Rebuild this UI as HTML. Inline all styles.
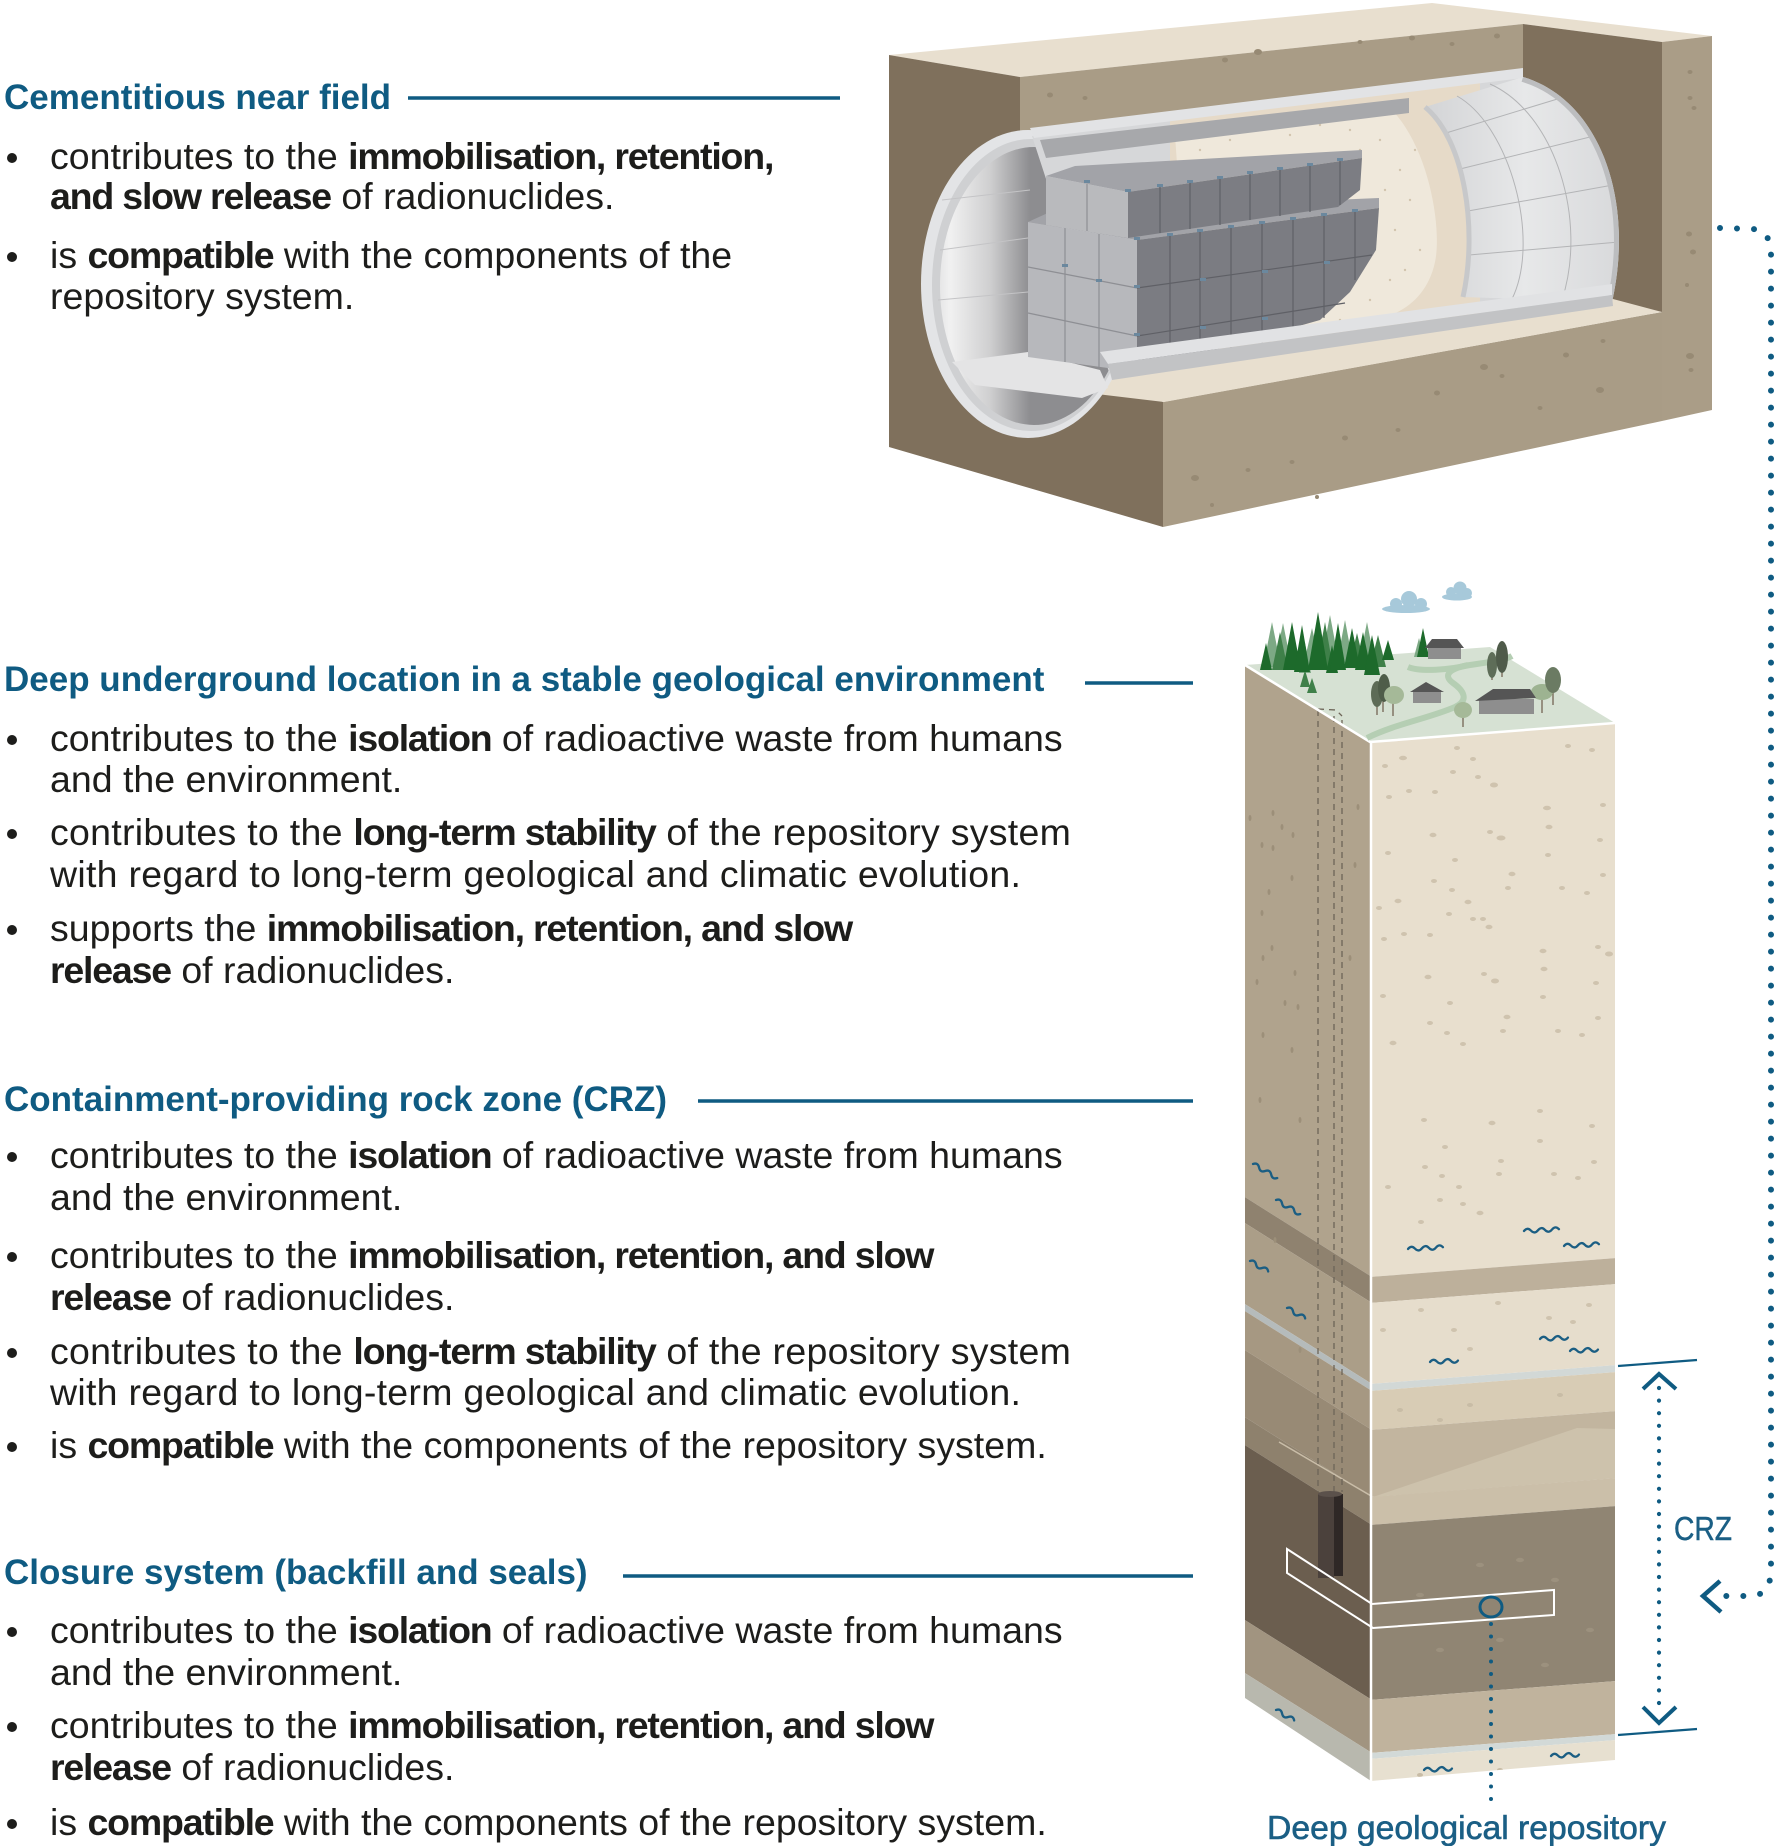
<!DOCTYPE html>
<html><head><meta charset="utf-8">
<style>
html,body{margin:0;padding:0;background:#fff;}
body{width:1777px;height:1846px;position:relative;overflow:hidden;font-family:"Liberation Sans",sans-serif;}
svg{position:absolute;left:0;top:0;}
.h{position:absolute;left:4px;font-weight:bold;font-size:35px;line-height:40px;color:#0f5b82;white-space:nowrap;}
.t{position:absolute;left:50px;font-size:37.5px;line-height:41px;color:#1d1d1b;white-space:nowrap;}
.t b{letter-spacing:-1.2px;}
.w{letter-spacing:0.28px;}
.bu{position:absolute;left:7px;width:10px;height:10px;border-radius:50%;background:#1d1d1b;}
</style></head><body>
<svg width="1777" height="1846" viewBox="0 0 1777 1846" xmlns="http://www.w3.org/2000/svg">
<defs>
 <linearGradient id="inner" gradientUnits="userSpaceOnUse" x1="930" y1="0" x2="1030" y2="0">
  <stop offset="0" stop-color="#dcdcdd"/>
  <stop offset="0.2" stop-color="#f1f1f1"/>
  <stop offset="0.6" stop-color="#cfcfd0"/>
  <stop offset="1" stop-color="#8d8d90"/>
 </linearGradient>
 <linearGradient id="gridg" gradientUnits="userSpaceOnUse" x1="1430" y1="0" x2="1620" y2="0">
  <stop offset="0" stop-color="#d4d5d7"/>
  <stop offset="0.5" stop-color="#e7e8e9"/>
  <stop offset="1" stop-color="#d8d9db"/>
 </linearGradient>
 <clipPath id="pc"><path d="M1032,136 L1523,77 C1600,100 1635,200 1612,302 L1109,372 Z"/></clipPath>
 <clipPath id="lf"><polygon points="1245,665 1371,742 1371,1781 1245,1698"/></clipPath>
 <clipPath id="rf"><polygon points="1371,742 1615,723 1615,1760 1371,1781"/></clipPath>
</defs>

<!-- ===== Tunnel block ===== -->
<polygon points="889,55 1432,3 1712,36 1662,42 1523,24 1020,77" fill="#e8dfcf"/>
<polygon points="1020,77 1523,24 1523,300 1020,350" fill="#a99c86"/>
<polygon points="1523,24 1662,42 1662,312 1523,300" fill="#7f705c"/>
<polygon points="1662,42 1712,36 1712,410 1662,421" fill="#aa9d87"/>
<polygon points="1163,402 1662,312 1662,421 1163,527" fill="#a99c86"/>
<polygon points="889,55 1020,77 1020,330 1163,402 1163,527 889,447" fill="#7f705c"/>
<polygon points="1080,392 1164,402 1662,312 1613,299 1105,366" fill="#e8dfcf"/>

<g fill="#978a74">
 <ellipse cx="1050" cy="95" rx="3" ry="2.5"/><ellipse cx="1085" cy="98" rx="2.5" ry="2"/>
 <ellipse cx="1225" cy="60" rx="3" ry="2.5"/><ellipse cx="1258" cy="52" rx="4" ry="3"/>
 <ellipse cx="1360" cy="42" rx="2.5" ry="2"/><ellipse cx="1412" cy="38" rx="3" ry="2.5"/>
 <ellipse cx="1452" cy="44" rx="2.5" ry="2"/><ellipse cx="1497" cy="36" rx="3" ry="2.5"/>
 <ellipse cx="1690" cy="72" rx="2.5" ry="2"/><ellipse cx="1690" cy="98" rx="2.5" ry="2"/>
 <ellipse cx="1694" cy="108" rx="2.5" ry="2"/><ellipse cx="1689" cy="234" rx="3" ry="2.5"/>
 <ellipse cx="1693" cy="252" rx="3" ry="2.5"/><ellipse cx="1687" cy="285" rx="2" ry="2"/>
 <ellipse cx="1690" cy="356" rx="4" ry="3"/><ellipse cx="1691" cy="370" rx="2.5" ry="2"/>
 <ellipse cx="1195" cy="478" rx="4" ry="3"/><ellipse cx="1248" cy="470" rx="2.5" ry="2"/>
 <ellipse cx="1292" cy="462" rx="2.5" ry="2"/><ellipse cx="1345" cy="438" rx="3" ry="2.5"/>
 <ellipse cx="1398" cy="430" rx="2.5" ry="2"/><ellipse cx="1484" cy="367" rx="4" ry="3"/>
 <ellipse cx="1502" cy="376" rx="2.5" ry="2"/><ellipse cx="1566" cy="355" rx="3" ry="2.5"/>
 <ellipse cx="1603" cy="341" rx="2.5" ry="2"/><ellipse cx="1437" cy="393" rx="3" ry="2.5"/>
 <ellipse cx="1600" cy="390" rx="4" ry="3"/><ellipse cx="1317" cy="497" rx="2" ry="2"/>
 <ellipse cx="1212" cy="505" rx="2" ry="2"/><ellipse cx="1540" cy="408" rx="2.5" ry="2"/>
</g>

<!-- tunnel opening -->
<ellipse cx="1028" cy="284" rx="107" ry="154" fill="#e3e4e6"/>
<ellipse cx="1031" cy="285" rx="99" ry="146" fill="#cfd0d2"/>
<ellipse cx="1034" cy="286" rx="94" ry="139" fill="url(#inner)"/>
<polygon points="952,362 1028,352 1100,370 1108,388 1082,398 975,385" fill="#e4e4e5"/>
<g stroke="#c4c4c6" stroke-width="1" fill="none">
 <path d="M940,250 L1028,238"/><path d="M938,300 L1028,292"/><path d="M942,200 L1030,190"/>
</g>

<!-- tunnel interior -->
<g clip-path="url(#pc)">
 <rect x="1020" y="60" width="620" height="330" fill="#d6d7d9"/>
 <polygon points="1170,100 1480,60 1480,330 1170,370" fill="#e6dac8"/>
 <path d="M1175,135 L1392,110 C1430,150 1442,230 1435,262 C1428,295 1405,312 1382,318 L1190,350 Z" fill="#efe8db"/>
 <g fill="#d2c4ae">
  <circle cx="1200" cy="150" r="1.2"/><circle cx="1230" cy="140" r="1.2"/><circle cx="1260" cy="128" r="1.2"/>
  <circle cx="1290" cy="135" r="1.2"/><circle cx="1320" cy="125" r="1.2"/><circle cx="1350" cy="130" r="1.2"/>
  <circle cx="1380" cy="140" r="1.2"/><circle cx="1400" cy="170" r="1.2"/><circle cx="1410" cy="200" r="1.2"/>
  <circle cx="1395" cy="230" r="1.2"/><circle cx="1420" cy="250" r="1.2"/><circle cx="1390" cy="280" r="1.2"/>
  <circle cx="1370" cy="300" r="1.2"/><circle cx="1340" cy="320" r="1.2"/><circle cx="1385" cy="190" r="1.2"/>
  <circle cx="1405" cy="270" r="1.2"/><circle cx="1415" cy="150" r="1.2"/><circle cx="1360" cy="150" r="1.2"/>
 </g>
 <path d="M1425,107 L1523,77 C1600,100 1635,200 1612,302 L1463,297 C1478,230 1465,140 1425,107 Z" fill="url(#gridg)"/>
 <g stroke="#b3b4b6" stroke-width="1" fill="none">
  <path d="M1457,96 C1510,126 1541,240 1512,299"/>
  <path d="M1490,84 C1555,113 1588,220 1562,300"/>
  <path d="M1446,133 L1564,97"/><path d="M1460,169 L1594,136"/>
  <path d="M1468,211 L1613,185"/><path d="M1469,255 L1619,242"/>
 </g>
 <path d="M1523,77 C1600,100 1635,200 1612,302" stroke="#bcbdbf" stroke-width="10" fill="none"/>
 <path d="M1425,107 C1465,140 1478,230 1463,297" stroke="#c7c8ca" stroke-width="5" fill="none"/>
</g>

<!-- waste packages -->
<polygon points="1028,222 1050,212 1379,198 1379,208 1137,240" fill="#a2a3a8"/>
<polygon points="1028,222 1137,240 1137,372 1028,357" fill="#b7b8bc"/>
<polygon points="1137,240 1379,208 1376,250 1350,292 1320,320 1137,372" fill="#7b7c82"/>
<g stroke="#5f6066" stroke-width="1.2">
 <line x1="1170" y1="236" x2="1170" y2="365"/><line x1="1200" y1="232" x2="1200" y2="360"/>
 <line x1="1231" y1="228" x2="1231" y2="355"/><line x1="1262" y1="224" x2="1262" y2="348"/>
 <line x1="1293" y1="220" x2="1293" y2="335"/><line x1="1324" y1="216" x2="1324" y2="318"/>
 <line x1="1355" y1="212" x2="1355" y2="280"/>
 <line x1="1137" y1="288" x2="1372" y2="255"/><line x1="1137" y1="336" x2="1345" y2="303"/>
</g>
<g stroke="#8e8f94" stroke-width="1.2">
 <line x1="1065" y1="228" x2="1065" y2="362"/><line x1="1099" y1="234" x2="1099" y2="367"/>
 <line x1="1028" y1="267" x2="1137" y2="288"/><line x1="1028" y1="313" x2="1137" y2="336"/>
</g>
<polygon points="1046,176 1075,166 1362,150 1362,158 1128,192" fill="#a2a3a8"/>
<polygon points="1046,176 1128,192 1128,238 1046,225" fill="#b9babd"/>
<polygon points="1128,192 1362,158 1360,190 1338,207 1128,238" fill="#7c7d83"/>
<g stroke="#5f6066" stroke-width="1.2">
 <line x1="1160" y1="187" x2="1160" y2="233"/><line x1="1190" y1="183" x2="1190" y2="229"/>
 <line x1="1220" y1="179" x2="1220" y2="225"/><line x1="1250" y1="174" x2="1250" y2="220"/>
 <line x1="1280" y1="170" x2="1280" y2="216"/><line x1="1310" y1="166" x2="1310" y2="212"/>
 <line x1="1340" y1="161" x2="1340" y2="205"/>
 <line x1="1087" y1="184" x2="1087" y2="231" stroke="#8e8f94"/>
</g>
<g fill="#6b889e">
 <rect x="1084" y="180" width="6" height="3"/><rect x="1125" y="189" width="6" height="3"/>
 <rect x="1157" y="184" width="6" height="3"/><rect x="1187" y="180" width="6" height="3"/>
 <rect x="1217" y="176" width="6" height="3"/><rect x="1247" y="171" width="6" height="3"/>
 <rect x="1277" y="167" width="6" height="3"/><rect x="1307" y="163" width="6" height="3"/>
 <rect x="1337" y="158" width="6" height="3"/><rect x="1134" y="237" width="6" height="3"/>
 <rect x="1167" y="233" width="6" height="3"/><rect x="1197" y="229" width="6" height="3"/>
 <rect x="1228" y="225" width="6" height="3"/><rect x="1259" y="221" width="6" height="3"/>
 <rect x="1290" y="217" width="6" height="3"/><rect x="1321" y="213" width="6" height="3"/>
 <rect x="1352" y="209" width="6" height="3"/><rect x="1134" y="285" width="6" height="3"/>
 <rect x="1134" y="333" width="6" height="3"/><rect x="1062" y="264" width="6" height="3"/>
 <rect x="1096" y="279" width="6" height="3"/><rect x="1200" y="278" width="6" height="3"/>
 <rect x="1262" y="270" width="6" height="3"/><rect x="1324" y="261" width="6" height="3"/>
 <rect x="1200" y="326" width="6" height="3"/><rect x="1262" y="317" width="6" height="3"/>
</g>

<!-- cut strips -->
<polygon points="1030,128 1523,68 1523,78 1034,138" fill="#e2e3e5"/>
<polygon points="1040,140 1409,98 1409,113 1046,158" fill="#a7a8ab"/>
<polygon points="1100,352 1612,284 1612,295 1108,364" fill="#e1e2e4"/>
<polygon points="1108,364 1612,295 1613,306 1112,380" fill="#c2c3c5"/>

<!-- ===== Geological column ===== -->
<polygon points="1245,665 1370,742 1615,723 1490,647" fill="#d6e1d3"/>
<g clip-path="url(#lf)">
 <polygon points="1240,560 1372,650 1372,1277 1240,1194" fill="#b0a38d"/>
 <polygon points="1240,1194 1372,1277 1372,1303 1240,1220" fill="#8f826f"/>
 <polygon points="1240,1220 1372,1303 1372,1384 1240,1301" fill="#ab9e88"/>
 <polygon points="1240,1301 1372,1384 1372,1391 1240,1308" fill="#b5bbbb"/>
 <polygon points="1240,1308 1372,1391 1372,1430 1240,1347" fill="#a69882"/>
 <polygon points="1240,1347 1372,1430 1372,1497 1240,1414" fill="#988a75"/>
 <polygon points="1240,1414 1372,1497 1372,1525 1240,1442" fill="#8e816d"/>
 <polygon points="1240,1442 1372,1525 1372,1700 1240,1617" fill="#6b5e4f"/>
 <polygon points="1240,1617 1372,1700 1372,1753 1240,1670" fill="#a19480"/>
 <polygon points="1240,1670 1372,1753 1372,1800 1240,1717" fill="#b8b8ae"/>
 <line x1="1279" y1="1442" x2="1373" y2="1497" stroke="#c9bda8" stroke-width="1.5"/>
 <g fill="#9c8f79">
  <ellipse cx="1273" cy="813" rx="1.5" ry="3"/><ellipse cx="1282" cy="827" rx="1.5" ry="3"/>
  <ellipse cx="1293" cy="835" rx="1.5" ry="3"/><ellipse cx="1262" cy="845" rx="1.5" ry="3"/>
  <ellipse cx="1273" cy="848" rx="1.5" ry="3"/><ellipse cx="1292" cy="878" rx="1.5" ry="3"/>
  <ellipse cx="1269" cy="892" rx="1.5" ry="3"/><ellipse cx="1250" cy="818" rx="1.5" ry="3"/>
  <ellipse cx="1272" cy="948" rx="1.5" ry="3"/><ellipse cx="1263" cy="958" rx="1.5" ry="3"/>
  <ellipse cx="1295" cy="973" rx="1.5" ry="3"/><ellipse cx="1257" cy="982" rx="1.5" ry="3"/>
  <ellipse cx="1285" cy="1003" rx="1.5" ry="3"/><ellipse cx="1298" cy="1007" rx="1.5" ry="3"/>
  <ellipse cx="1263" cy="1035" rx="1.5" ry="3"/><ellipse cx="1292" cy="1050" rx="1.5" ry="3"/>
  <ellipse cx="1350" cy="958" rx="1.5" ry="3"/><ellipse cx="1358" cy="807" rx="1.5" ry="3"/>
  <ellipse cx="1355" cy="865" rx="1.5" ry="3"/><ellipse cx="1262" cy="913" rx="1.5" ry="3"/>
  <ellipse cx="1260" cy="1100" rx="1.5" ry="3"/><ellipse cx="1300" cy="1120" rx="1.5" ry="3"/>
  <ellipse cx="1275" cy="1240" rx="1.5" ry="3"/><ellipse cx="1300" cy="1350" rx="1.5" ry="3"/>
 </g>
</g>
<g clip-path="url(#rf)">
 <polygon points="1370,700 1616,681 1616,1258 1370,1277" fill="#e8dfce"/>
 <polygon points="1370,1277 1616,1258 1616,1284 1370,1303" fill="#bdb09b"/>
 <polygon points="1370,1303 1616,1284 1616,1365 1370,1384" fill="#e6ddcc"/>
 <polygon points="1370,1384 1616,1365 1616,1372 1370,1391" fill="#d2d8d6"/>
 <polygon points="1370,1391 1616,1372 1616,1411 1370,1430" fill="#d8ccb5"/>
 <polygon points="1370,1430 1616,1411 1616,1478 1370,1497" fill="#c2b59f"/>
 <polygon points="1373,1497 1577,1428 1616,1429 1616,1478" fill="#cdc2ac"/>
 <polygon points="1370,1497 1616,1478 1616,1506 1370,1525" fill="#cbbfa9"/>
 <polygon points="1370,1525 1616,1506 1616,1681 1370,1700" fill="#908573"/>
 <polygon points="1370,1700 1616,1681 1616,1734 1370,1753" fill="#c0b39d"/>
 <polygon points="1370,1753 1616,1734 1616,1740 1370,1759" fill="#d2d9d7"/>
 <polygon points="1370,1759 1616,1740 1616,1800 1370,1800" fill="#e7e0d0"/>
 <g fill="#cfc3ae">
  <ellipse cx="1403" cy="758" rx="4" ry="2.2"/><ellipse cx="1385" cy="766" rx="3" ry="2"/>
  <ellipse cx="1457" cy="748" rx="3" ry="2"/><ellipse cx="1473" cy="759" rx="3" ry="2"/>
  <ellipse cx="1453" cy="772" rx="3" ry="2"/><ellipse cx="1494" cy="785" rx="4" ry="2.5"/>
  <ellipse cx="1478" cy="777" rx="3" ry="2"/><ellipse cx="1592" cy="750" rx="3" ry="2"/>
  <ellipse cx="1568" cy="746" rx="3" ry="2"/><ellipse cx="1409" cy="791" rx="3" ry="2"/>
  <ellipse cx="1435" cy="792" rx="3" ry="2"/><ellipse cx="1389" cy="797" rx="3" ry="2"/>
  <ellipse cx="1547" cy="808" rx="4" ry="2.2"/><ellipse cx="1603" cy="805" rx="3" ry="2"/>
  <ellipse cx="1549" cy="827" rx="3.5" ry="2.2"/><ellipse cx="1490" cy="832" rx="3" ry="2"/>
  <ellipse cx="1501" cy="838" rx="4.5" ry="2.5"/><ellipse cx="1433" cy="835" rx="3.5" ry="2.2"/>
  <ellipse cx="1600" cy="840" rx="3" ry="2"/><ellipse cx="1388" cy="853" rx="3" ry="2"/>
  <ellipse cx="1548" cy="855" rx="3" ry="2"/><ellipse cx="1455" cy="860" rx="3" ry="2"/>
  <ellipse cx="1512" cy="874" rx="3.5" ry="2.2"/><ellipse cx="1603" cy="875" rx="3" ry="2"/>
  <ellipse cx="1434" cy="881" rx="3" ry="2"/><ellipse cx="1452" cy="890" rx="3" ry="2"/>
  <ellipse cx="1508" cy="888" rx="3" ry="2"/><ellipse cx="1562" cy="888" rx="3" ry="2"/>
  <ellipse cx="1587" cy="893" rx="3" ry="2"/><ellipse cx="1398" cy="901" rx="3.5" ry="2.2"/>
  <ellipse cx="1468" cy="902" rx="3.5" ry="2.2"/><ellipse cx="1379" cy="908" rx="3" ry="2"/>
  <ellipse cx="1449" cy="914" rx="3" ry="2"/><ellipse cx="1473" cy="919" rx="3" ry="2"/>
  <ellipse cx="1483" cy="919" rx="3" ry="2"/><ellipse cx="1489" cy="927" rx="3.5" ry="2.2"/>
  <ellipse cx="1384" cy="939" rx="3" ry="2"/><ellipse cx="1404" cy="934" rx="3" ry="2"/>
  <ellipse cx="1430" cy="935" rx="3" ry="2"/><ellipse cx="1543" cy="951" rx="3.5" ry="2.2"/>
  <ellipse cx="1598" cy="947" rx="3" ry="2"/><ellipse cx="1609" cy="954" rx="4" ry="2.5"/>
  <ellipse cx="1544" cy="969" rx="3.5" ry="2.2"/><ellipse cx="1428" cy="977" rx="3.5" ry="2.2"/>
  <ellipse cx="1484" cy="974" rx="3" ry="2"/><ellipse cx="1495" cy="981" rx="4" ry="2.5"/>
  <ellipse cx="1596" cy="983" rx="3" ry="2"/><ellipse cx="1383" cy="996" rx="3" ry="2"/>
  <ellipse cx="1450" cy="1003" rx="3" ry="2"/><ellipse cx="1543" cy="997" rx="3" ry="2"/>
  <ellipse cx="1507" cy="1017" rx="3.5" ry="2.2"/><ellipse cx="1430" cy="1023" rx="3" ry="2"/>
  <ellipse cx="1598" cy="1018" rx="3" ry="2"/><ellipse cx="1503" cy="1031" rx="3" ry="2"/>
  <ellipse cx="1558" cy="1031" rx="3" ry="2"/><ellipse cx="1447" cy="1033" rx="3" ry="2"/>
  <ellipse cx="1393" cy="1043" rx="3.5" ry="2.2"/><ellipse cx="1463" cy="1044" rx="3" ry="2"/>
  <ellipse cx="1582" cy="1035" rx="3" ry="2"/><ellipse cx="1424" cy="1120" rx="3" ry="2"/>
  <ellipse cx="1492" cy="1123" rx="3.5" ry="2.2"/><ellipse cx="1540" cy="1111" rx="3" ry="2"/>
  <ellipse cx="1592" cy="1126" rx="3" ry="2"/><ellipse cx="1445" cy="1147" rx="3" ry="2"/>
  <ellipse cx="1540" cy="1141" rx="3" ry="2"/><ellipse cx="1501" cy="1161" rx="3" ry="2"/>
  <ellipse cx="1594" cy="1162" rx="3" ry="2"/><ellipse cx="1425" cy="1167" rx="3" ry="2"/>
  <ellipse cx="1499" cy="1174" rx="3" ry="2"/><ellipse cx="1554" cy="1174" rx="3" ry="2"/>
  <ellipse cx="1442" cy="1176" rx="3" ry="2"/><ellipse cx="1578" cy="1178" rx="3" ry="2"/>
  <ellipse cx="1388" cy="1187" rx="3" ry="2"/><ellipse cx="1459" cy="1187" rx="3" ry="2"/>
  <ellipse cx="1440" cy="1200" rx="3" ry="2"/><ellipse cx="1463" cy="1204" rx="3" ry="2"/>
  <ellipse cx="1480" cy="1213" rx="3.5" ry="2.2"/><ellipse cx="1421" cy="1222" rx="3" ry="2"/>
  <ellipse cx="1421" cy="1310" rx="3" ry="2"/><ellipse cx="1498" cy="1303" rx="3" ry="2"/>
  <ellipse cx="1589" cy="1305" rx="3" ry="2"/><ellipse cx="1383" cy="1330" rx="3" ry="2"/>
  <ellipse cx="1454" cy="1330" rx="3" ry="2"/><ellipse cx="1549" cy="1318" rx="3" ry="2"/>
  <ellipse cx="1573" cy="1322" rx="3" ry="2"/><ellipse cx="1470" cy="1349" rx="3" ry="2"/>
 </g>
 <g fill="#c8bca6">
  <ellipse cx="1400" cy="1410" rx="3" ry="2"/><ellipse cx="1470" cy="1405" rx="3" ry="2"/>
  <ellipse cx="1560" cy="1395" rx="3" ry="2"/><ellipse cx="1440" cy="1420" rx="3" ry="2"/>
  <ellipse cx="1420" cy="1775" rx="3" ry="2"/><ellipse cx="1500" cy="1770" rx="3" ry="2"/>
 </g>
 <g fill="#9c917e">
  <ellipse cx="1480" cy="1565" rx="4" ry="2.2"/><ellipse cx="1520" cy="1560" rx="4" ry="2.2"/>
  <ellipse cx="1555" cy="1580" rx="4" ry="2.2"/><ellipse cx="1440" cy="1650" rx="4" ry="2.2"/>
  <ellipse cx="1500" cy="1640" rx="4" ry="2.2"/><ellipse cx="1590" cy="1630" rx="4" ry="2.2"/>
  <ellipse cx="1420" cy="1595" rx="4" ry="2.2"/><ellipse cx="1545" cy="1665" rx="4" ry="2.2"/>
 </g>
</g>

<!-- shafts, canister, repository outline -->
<g stroke="#6d6558" stroke-width="1.3" stroke-dasharray="6 5" fill="none">
 <line x1="1318" y1="710" x2="1318" y2="1492"/>
 <line x1="1334" y1="716" x2="1334" y2="1492"/>
 <line x1="1342" y1="720" x2="1342" y2="1492"/>
 <path d="M1318,709 L1336,710 L1342,716"/>
</g>
<rect x="1318" y="1494" width="16" height="84" fill="#4b413c"/>
<rect x="1334" y="1494" width="9" height="82" fill="#2f2826"/>
<ellipse cx="1330" cy="1494" rx="12" ry="3" fill="#5b514b"/>
<path d="M1287,1549 L1372,1604 L1554,1590 L1554,1615 L1373,1628 L1287,1573 Z" fill="none" stroke="#ffffff" stroke-width="2"/>

<!-- white edges -->
<polyline points="1245,665 1370,742 1615,723" fill="none" stroke="#ffffff" stroke-width="2.5"/>
<line x1="1371" y1="742" x2="1371" y2="1781" stroke="#ffffff" stroke-width="2.5"/>

<!-- waves -->
<g stroke="#1b5e83" stroke-width="2.3" fill="none" stroke-linecap="round">
 <path d="M0,0 q3.5,-4 7,0 t7,0 t7,0 t7,0" transform="translate(1253,1164) rotate(30)"/>
 <path d="M0,0 q3.5,-4 7,0 t7,0 t7,0 t7,0" transform="translate(1276,1200) rotate(30)"/>
 <path d="M0,0 q3.5,-4 7,0 t7,0 t7,0" transform="translate(1250,1261) rotate(30)"/>
 <path d="M0,0 q3.5,-4 7,0 t7,0 t7,0" transform="translate(1287,1308) rotate(30)"/>
 <path d="M0,0 q3.5,-4 7,0 t7,0 t7,0" transform="translate(1276,1710) rotate(30)"/>
 <path d="M0,0 q3.5,-4 7,0 t7,0 t7,0 t7,0 t7,0" transform="translate(1408,1249) rotate(-3)"/>
 <path d="M0,0 q3.5,-4 7,0 t7,0 t7,0 t7,0 t7,0" transform="translate(1524,1231) rotate(-3)"/>
 <path d="M0,0 q3.5,-4 7,0 t7,0 t7,0 t7,0 t7,0" transform="translate(1564,1246) rotate(-3)"/>
 <path d="M0,0 q3.5,-4 7,0 t7,0 t7,0 t7,0" transform="translate(1430,1362) rotate(-3)"/>
 <path d="M0,0 q3.5,-4 7,0 t7,0 t7,0 t7,0" transform="translate(1540,1339) rotate(-3)"/>
 <path d="M0,0 q3.5,-4 7,0 t7,0 t7,0 t7,0" transform="translate(1570,1351) rotate(-3)"/>
 <path d="M0,0 q3.5,-4 7,0 t7,0 t7,0 t7,0" transform="translate(1424,1770) rotate(-3)"/>
 <path d="M0,0 q3.5,-4 7,0 t7,0 t7,0 t7,0" transform="translate(1551,1756) rotate(-3)"/>
</g>

<!-- top surface details -->
<path d="M1367,738 C1395,724 1430,718 1455,707 C1470,700 1463,690 1453,683 C1442,675 1450,668 1470,665 C1490,662 1505,660 1512,656" fill="none" stroke="#b5ceb3" stroke-width="6"/>
<path d="M1408,667 C1420,672 1450,670 1468,665" fill="none" stroke="#b5ceb3" stroke-width="6"/>
<g fill="#a7c9da">
 <ellipse cx="1406" cy="609" rx="24" ry="4"/><circle cx="1396" cy="604" r="6"/><circle cx="1409" cy="599" r="8"/><circle cx="1421" cy="604" r="6"/>
 <ellipse cx="1457" cy="597" rx="15" ry="3.5"/><circle cx="1451" cy="592" r="5"/><circle cx="1460" cy="588" r="6.5"/><circle cx="1467" cy="593" r="5"/>
</g>
<!-- conifers -->
<g fill="#7da985">
 <polygon points="1272,622 1263,667 1281,667"/><polygon points="1283,623 1275,663 1291,663"/>
 <polygon points="1305,643 1299,673 1311,673"/><polygon points="1312,628 1303,667 1321,667"/>
 <polygon points="1330,615 1321,663 1339,663"/><polygon points="1345,620 1337,663 1353,663"/>
 <polygon points="1367,622 1359,663 1375,663"/><polygon points="1419,638 1414,657 1424,657"/>
</g>
<g fill="#3f8049">
 <polygon points="1280,632 1272,670 1288,670"/><polygon points="1325,622 1317,667 1333,667"/>
 <polygon points="1357,633 1349,667 1365,667"/><polygon points="1378,635 1370,667 1386,667"/>
 <polygon points="1305,670 1300,687 1310,687"/><polygon points="1312,678 1307,693 1317,693"/>
</g>
<g fill="#1d6a2b">
 <polygon points="1266,643 1260,670 1272,670"/><polygon points="1292,622 1283,670 1301,670"/>
 <polygon points="1302,625 1294,672 1310,672"/><polygon points="1318,612 1308,670 1328,670"/>
 <polygon points="1332,645 1326,673 1338,673"/><polygon points="1338,623 1330,670 1346,670"/>
 <polygon points="1352,628 1344,668 1360,668"/><polygon points="1363,632 1355,670 1371,670"/>
 <polygon points="1372,635 1364,675 1380,675"/><polygon points="1388,640 1382,660 1394,660"/>
 <polygon points="1423,628 1417,657 1429,657"/>
</g>
<!-- deciduous -->
<g stroke="#6a5a48" stroke-width="1.2">
 <line x1="1377" y1="700" x2="1377" y2="715"/><line x1="1383" y1="695" x2="1383" y2="712"/>
 <line x1="1393" y1="700" x2="1393" y2="716"/><line x1="1463" y1="712" x2="1463" y2="727"/>
 <line x1="1492" y1="672" x2="1492" y2="680"/><line x1="1502" y1="665" x2="1502" y2="677"/>
 <line x1="1553" y1="685" x2="1553" y2="705"/><line x1="1542" y1="695" x2="1542" y2="713"/>
</g>
<ellipse cx="1377" cy="694" rx="6" ry="13" fill="#5d6b56"/>
<ellipse cx="1384" cy="688" rx="6" ry="14" fill="#4f5d49"/>
<ellipse cx="1394" cy="695" rx="10" ry="9" fill="#a5b998"/>
<ellipse cx="1463" cy="710" rx="9" ry="8" fill="#a5b998"/>
<ellipse cx="1492" cy="665" rx="5" ry="13" fill="#5e6d58"/>
<ellipse cx="1502" cy="657" rx="6" ry="16" fill="#4f5b4a"/>
<ellipse cx="1542" cy="692" rx="11" ry="8" fill="#9db391"/>
<ellipse cx="1553" cy="680" rx="8" ry="13" fill="#6b7b63"/>
<!-- houses -->
<rect x="1428" y="646" width="33" height="13" fill="#8e8e8e"/>
<polygon points="1425,648 1432,639 1457,639 1464,648" fill="#555555"/>
<rect x="1413" y="690" width="28" height="13" fill="#8e8e8e"/>
<polygon points="1410,692 1426,682 1444,692" fill="#555555"/>
<rect x="1479" y="699" width="55" height="15" fill="#8e8e8e"/>
<polygon points="1475,701 1493,689 1530,689 1536,698" fill="#555555"/>

<!-- ===== connectors and labels ===== -->
<g stroke="#0f5b82" fill="none">
 <line x1="408" y1="98" x2="840" y2="98" stroke-width="3.5"/>
 <line x1="1085" y1="683" x2="1193" y2="683" stroke-width="3.5"/>
 <line x1="698" y1="1101" x2="1193" y2="1101" stroke-width="3.5"/>
 <line x1="623" y1="1576" x2="1193" y2="1576" stroke-width="3.5"/>
 <path d="M1720,228 L1753,229 Q1771,231 1771,254 L1771,1571 Q1770,1596 1750,1596 L1717,1596" stroke-width="6" stroke-linecap="round" stroke-dasharray="0 17"/>
 <polyline points="1720,1581 1703,1596 1721,1612" stroke-width="4.5"/>
 <line x1="1618" y1="1366" x2="1697" y2="1360" stroke-width="2.2"/>
 <line x1="1618" y1="1735" x2="1697" y2="1729" stroke-width="2.2"/>
 <line x1="1659" y1="1388" x2="1659" y2="1712" stroke-width="4.2" stroke-linecap="round" stroke-dasharray="0 12.6"/>
 <polyline points="1643,1389 1659,1374 1676,1389" stroke-width="4"/>
 <polyline points="1643,1707 1659,1723 1676,1707" stroke-width="4"/>
 <ellipse cx="1491" cy="1607" rx="11" ry="10" stroke-width="3"/>
 <line x1="1491" y1="1624" x2="1491" y2="1806" stroke-width="4" stroke-linecap="round" stroke-dasharray="0 12.5"/>
</g>
<text x="1674" y="1540" font-family="Liberation Sans, sans-serif" font-size="33" fill="#1b5f85" stroke="#1b5f85" stroke-width="0.5" textLength="58" lengthAdjust="spacingAndGlyphs">CRZ</text>
<text x="1267" y="1839" font-family="Liberation Sans, sans-serif" font-size="33" fill="#1b5f85" stroke="#1b5f85" stroke-width="0.6" textLength="399" lengthAdjust="spacingAndGlyphs">Deep geological repository</text>
</svg>

<!-- Section 1 -->
<div class="h" style="top:78px">Cementitious near field</div>
<div class="bu" style="top:153px"></div>
<div class="t" style="top:135.5px">contributes to the <b>immobilisation, retention,</b></div>
<div class="t" style="top:175.5px"><b>and slow release</b> of radionuclides.</div>
<div class="bu" style="top:252px"></div>
<div class="t" style="top:234.5px">is <b>compatible</b> with the components of the</div>
<div class="t" style="top:275.5px">repository system.</div>

<!-- Section 2 -->
<div class="h" style="top:660px">Deep underground location in a stable geological environment</div>
<div class="bu" style="top:735px"></div>
<div class="t" style="top:717.5px">contributes to the <b>isolation</b> of radioactive waste from humans</div>
<div class="t" style="top:758.5px">and the environment.</div>
<div class="bu" style="top:829px"></div>
<div class="t w" style="top:811.5px">contributes to the <b>long-term stability</b> of the repository system</div>
<div class="t w" style="top:853.5px">with regard to long-term geological and climatic evolution.</div>
<div class="bu" style="top:925px"></div>
<div class="t" style="top:907.5px">supports the <b>immobilisation, retention, and slow</b></div>
<div class="t" style="top:949.5px"><b>release</b> of radionuclides.</div>

<!-- Section 3 -->
<div class="h" style="top:1080px">Containment-providing rock zone (CRZ)</div>
<div class="bu" style="top:1152px"></div>
<div class="t" style="top:1134.5px">contributes to the <b>isolation</b> of radioactive waste from humans</div>
<div class="t" style="top:1176.5px">and the environment.</div>
<div class="bu" style="top:1252px"></div>
<div class="t" style="top:1234.5px">contributes to the <b>immobilisation, retention, and slow</b></div>
<div class="t" style="top:1276.5px"><b>release</b> of radionuclides.</div>
<div class="bu" style="top:1348px"></div>
<div class="t w" style="top:1330.5px">contributes to the <b>long-term stability</b> of the repository system</div>
<div class="t w" style="top:1371.5px">with regard to long-term geological and climatic evolution.</div>
<div class="bu" style="top:1442px"></div>
<div class="t" style="top:1424.5px">is <b>compatible</b> with the components of the repository system.</div>

<!-- Section 4 -->
<div class="h" style="top:1553px">Closure system (backfill and seals)</div>
<div class="bu" style="top:1627px"></div>
<div class="t" style="top:1609.5px">contributes to the <b>isolation</b> of radioactive waste from humans</div>
<div class="t" style="top:1651.5px">and the environment.</div>
<div class="bu" style="top:1722px"></div>
<div class="t" style="top:1704.5px">contributes to the <b>immobilisation, retention, and slow</b></div>
<div class="t" style="top:1746.5px"><b>release</b> of radionuclides.</div>
<div class="bu" style="top:1819px"></div>
<div class="t" style="top:1801.5px">is <b>compatible</b> with the components of the repository system.</div>
</body></html>
